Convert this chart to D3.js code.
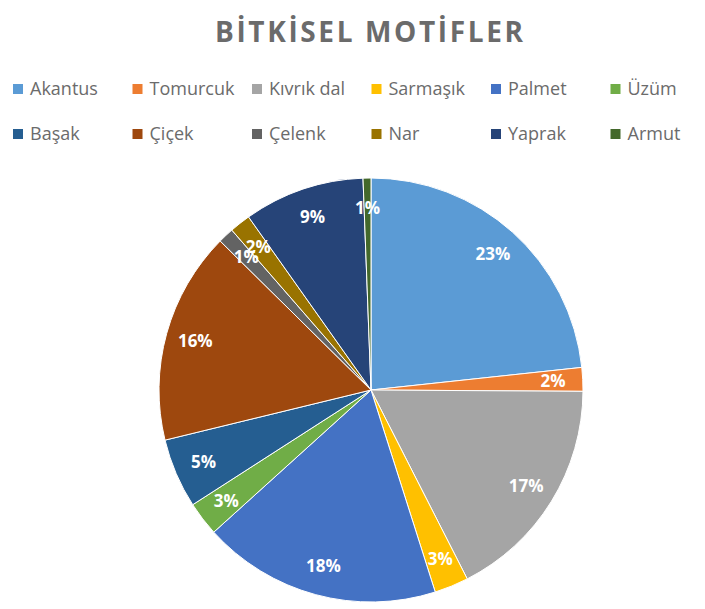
<!DOCTYPE html>
<html>
<head>
<meta charset="utf-8">
<script src="https://cdn.jsdelivr.net/npm/d3@7"></script>
<style>
  body { margin: 0; background: #fff; }
  svg { display: block; font-family: "Open Sans", "Noto Sans", sans-serif; }
</style>
</head>
<body>
<div id="chart"></div>
<script>
// Motif shares (percent), clockwise from 12 o'clock
const categories = ["Akantus", "Tomurcuk", "Kıvrık dal", "Sarmaşık", "Palmet", "Üzüm",
                    "Başak", "Çiçek", "Çelenk", "Nar", "Yaprak", "Armut"];
const values = [23.3, 1.8, 17.4, 2.6, 18.2, 2.6, 5.3, 16.2, 1.2, 1.6, 9.2, 0.6];
const colors = ["#5B9BD5", "#ED7D31", "#A5A5A5", "#FFC000", "#4472C4", "#70AD47",
                "#255E91", "#9E480E", "#636363", "#997300", "#264478", "#43682B"];
const title = "BİTKİSEL MOTİFLER";

const width = 705, height = 609;
const cx = 371, cy = 390, radius = 212;

const svg = d3.select("#chart").append("svg")
  .attr("width", width)
  .attr("height", height);

// Title
svg.append("text")
  .attr("x", 369)
  .attr("y", 42)
  .attr("text-anchor", "middle")
  .attr("font-size", 28)
  .attr("font-weight", 700)
  .attr("fill", "#6b6b6b")
  .attr("textLength", 308)
  .attr("lengthAdjust", "spacing")
  .text(title);

// Legend: 6 columns, 2 rows
const perRow = 6;
const colX = d3.scaleLinear().domain([0, 1]).range([13, 132.5]);
const rowY = d3.scaleLinear().domain([0, 1]).range([89, 134]);

const legend = svg.append("g").attr("class", "legend");
const items = legend.selectAll("g")
  .data(categories)
  .join("g")
  .attr("transform", (d, i) => `translate(${colX(i % perRow)},${rowY(Math.floor(i / perRow))})`);

items.append("rect")
  .attr("x", 0)
  .attr("y", -5)
  .attr("width", 10)
  .attr("height", 10)
  .attr("fill", (d, i) => colors[i]);

items.append("text")
  .attr("x", 17)
  .attr("y", 0)
  .attr("dy", "0.35em")
  .attr("font-size", 18)
  .attr("fill", "#6b6b6b")
  .text(d => d);

// Pie
const pie = d3.pie().sort(null).value(d => d);
const arcs = pie(values);
const arc = d3.arc().innerRadius(0).outerRadius(radius);
const labelArc = d3.arc().innerRadius(radius * 0.86).outerRadius(radius * 0.86);

const g = svg.append("g").attr("transform", `translate(${cx},${cy})`);

g.selectAll("path")
  .data(arcs)
  .join("path")
  .attr("d", arc)
  .attr("fill", (d, i) => colors[i])
  .attr("stroke", "#fff")
  .attr("stroke-width", 1);

const total = d3.sum(values);
g.selectAll("text.pct")
  .data(arcs)
  .join("text")
  .attr("class", "pct")
  .attr("transform", d => `translate(${labelArc.centroid(d)})`)
  .attr("text-anchor", "middle")
  .attr("dy", "0.35em")
  .attr("font-size", 17)
  .attr("font-weight", 700)
  .attr("fill", "#fff")
  .text(d => Math.round(d.value / total * 100) + "%");
</script>
</body>
</html>
